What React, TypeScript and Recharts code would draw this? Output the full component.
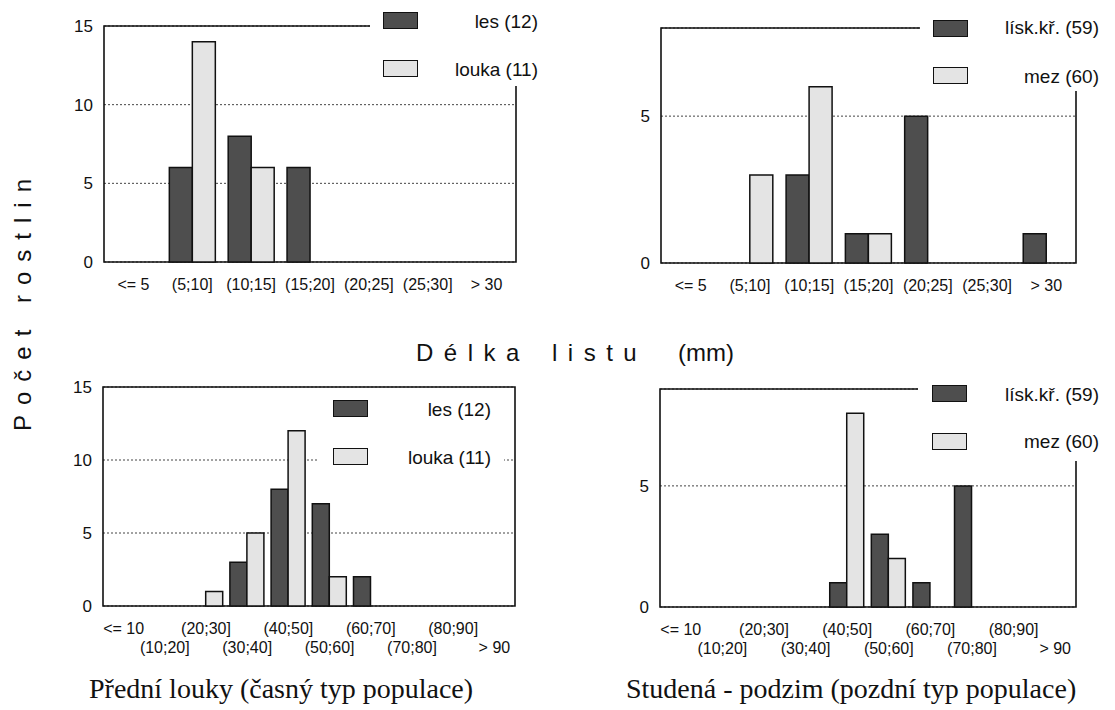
import React from "react";
import { BarChart, Bar, XAxis, YAxis, CartesianGrid, Legend, ReferenceArea } from "recharts";

// leaf length bins
const shortBins = ["<= 5", "(5;10]", "(10;15]", "(15;20]", "(20;25]", "(25;30]", "> 30"];
const longBins = ["<= 10", "(10;20]", "(20;30]", "(30;40]", "(40;50]", "(50;60]", "(60;70]", "(70;80]", "(80;90]", "> 90"];

// plant counts per bin
const earlyShortLes = [0, 6, 8, 6, 0, 0, 0];
const earlyShortLouka = [0, 14, 6, 0, 0, 0, 0];
const lateShortLisk = [0, 0, 3, 1, 5, 0, 1];
const lateShortMez = [0, 3, 6, 1, 0, 0, 0];
const earlyLongLes = [0, 0, 0, 3, 8, 7, 2, 0, 0, 0];
const earlyLongLouka = [0, 0, 1, 5, 12, 2, 0, 0, 0, 0];
const lateLongLisk = [0, 0, 0, 0, 1, 3, 1, 5, 0, 0];
const lateLongMez = [0, 0, 0, 0, 8, 2, 0, 0, 0, 0];

const earlyNames: [string, string] = ["les (12)", "louka (11)"];
const lateNames: [string, string] = ["lísk.kř. (59)", "mez (60)"];

const DARK = "#4e4e4e";
const LIGHT = "#e4e4e4";
const INK = "#111";
const SANS = "Arial, 'Liberation Sans', sans-serif";
const SERIF = "'Times New Roman', 'Liberation Serif', serif";

type LegendCfg = {
  box: [number, number, number, number];
  sx: number;
  sy: [number, number];
  ty: [number, number];
  tr: number;
};

interface PanelProps {
  plot: [number, number, number, number];
  cats: string[];
  a: number[];
  b: number[];
  names: [string, string];
  yMax: number;
  yTicks: number[];
  stagger?: boolean;
  gap: string;
  legend: LegendCfg;
}

const XTick = (props: any) => {
  const { x, y, payload, index, stagger } = props;
  const dy = stagger && index % 2 === 1 ? 47 : 28;
  return (
    <text x={x} y={y + dy} textAnchor="middle" fontSize={16} fontFamily={SANS} fill={INK}>
      {payload.value}
    </text>
  );
};

function LegendBox({ cfg, payload, names }: { cfg: LegendCfg; payload?: any[]; names: [string, string] }) {
  const [bx, by, bw, bh] = cfg.box;
  const fills = [DARK, LIGHT];
  return (
    <div style={{ position: "relative", width: bw, height: bh, background: "#fff" }}>
      {[0, 1].map((i) => (
        <React.Fragment key={i}>
          <div
            style={{
              position: "absolute",
              left: cfg.sx - bx,
              top: cfg.sy[i] - by,
              width: 35,
              height: 17,
              boxSizing: "border-box",
              border: `1.5px solid ${INK}`,
              background: payload?.[i]?.color ?? fills[i],
            }}
          />
          <div
            style={{
              position: "absolute",
              right: bx + bw - cfg.tr,
              top: cfg.ty[i] - by - 11,
              fontFamily: SANS,
              fontSize: 19,
              lineHeight: "22px",
              color: INK,
              whiteSpace: "nowrap",
            }}
          >
            {payload?.[i]?.value ?? names[i]}
          </div>
        </React.Fragment>
      ))}
    </div>
  );
}

function Panel({ plot, cats, a, b, names, yMax, yTicks, stagger, gap, legend }: PanelProps) {
  const [px, py, pw, ph] = plot;
  const cl = px - 45;
  const ct = py - 10;
  const data = cats.map((c, i) => ({ cat: c, a: a[i], b: b[i] }));
  const [bx, by, bw, bh] = legend.box;
  return (
    <div style={{ position: "absolute", left: cl, top: ct }}>
      <BarChart
        width={pw + 85}
        height={ph + 60}
        data={data}
        margin={{ top: 10, right: 40, bottom: 0, left: 0 }}
        barGap={0}
        barCategoryGap={gap}
      >
        <CartesianGrid vertical={false} stroke="#444" strokeDasharray="2 2" />
        <XAxis
          dataKey="cat"
          height={50}
          interval={0}
          tickLine={false}
          axisLine={false}
          tickSize={0}
          tickMargin={0}
          tick={<XTick stagger={stagger} />}
        />
        <YAxis
          width={45}
          domain={[0, yMax]}
          ticks={yTicks}
          tickLine={false}
          axisLine={false}
          tickSize={0}
          tickMargin={11}
          tick={{ fontSize: 17, fill: INK, fontFamily: SANS }}
        />
        <ReferenceArea y1={0} y2={yMax} fill="none" stroke={INK} strokeWidth={1.6} ifOverflow="visible" />
        <Bar dataKey="a" name={names[0]} fill={DARK} stroke={INK} strokeWidth={1.5} isAnimationActive={false} />
        <Bar dataKey="b" name={names[1]} fill={LIGHT} stroke={INK} strokeWidth={1.5} isAnimationActive={false} />
        <Legend
          layout="vertical"
          align="center"
          verticalAlign="middle"
          wrapperStyle={{ left: bx - cl, top: by - ct, width: bw, height: bh }}
          content={(p: any) => <LegendBox cfg={legend} payload={p.payload} names={names} />}
        />
      </BarChart>
    </div>
  );
}

export default function App() {
  return (
    <div
      style={{
        position: "absolute",
        left: 0,
        top: 0,
        width: 1115,
        height: 710,
        background: "#fff",
        overflow: "hidden",
      }}
    >
      <Panel
        plot={[104, 26, 412, 236]}
        cats={shortBins}
        a={earlyShortLes}
        b={earlyShortLouka}
        names={earlyNames}
        yMax={15}
        yTicks={[0, 5, 10, 15]}
        gap="11%"
        legend={{ box: [370, 0, 175, 86], sx: 383, sy: [12, 60], ty: [22, 70], tr: 538 }}
      />
      <Panel
        plot={[661, 28, 415, 235]}
        cats={shortBins}
        a={lateShortLisk}
        b={lateShortMez}
        names={lateNames}
        yMax={8}
        yTicks={[0, 5]}
        gap="11%"
        legend={{ box: [920, 0, 190, 91], sx: 933, sy: [20, 67], ty: [28, 77], tr: 1099 }}
      />
      <Panel
        plot={[103, 387, 412, 219]}
        cats={longBins}
        a={earlyLongLes}
        b={earlyLongLouka}
        names={earlyNames}
        yMax={15}
        yTicks={[0, 5, 10, 15]}
        stagger
        gap="8%"
        legend={{ box: [318, 393, 186, 78], sx: 333, sy: [400, 448], ty: [410, 458], tr: 491 }}
      />
      <Panel
        plot={[660, 389, 416, 218]}
        cats={longBins}
        a={lateLongLisk}
        b={lateLongMez}
        names={lateNames}
        yMax={9}
        yTicks={[0, 5]}
        stagger
        gap="8%"
        legend={{ box: [918, 374, 190, 87], sx: 932, sy: [385, 433], ty: [395, 442], tr: 1099 }}
      />
      <svg width={1115} height={710} style={{ position: "absolute", left: 0, top: 0, pointerEvents: "none" }}>
        <text
          transform="translate(31,300) rotate(-90)"
          textAnchor="middle"
          fontFamily={SANS}
          fontSize={24}
          fill={INK}
          style={{ letterSpacing: "10px" }}
        >
          Počet rostlin
        </text>
        <text x={416} y={361} fontFamily={SANS} fontSize={24} fill={INK} style={{ letterSpacing: "10.5px" }}>
          Délka
        </text>
        <text x={552} y={361} fontFamily={SANS} fontSize={24} fill={INK} style={{ letterSpacing: "10.5px" }}>
          listu
        </text>
        <text x={678} y={361} fontFamily={SANS} fontSize={24} fill={INK}>
          (mm)
        </text>
        <text x={89} y={698} fontFamily={SERIF} fontSize={28} fill={INK}>
          Přední louky (časný typ populace)
        </text>
        <text x={626} y={698} fontFamily={SERIF} fontSize={28} fill={INK}>
          Studená - podzim (pozdní typ populace)
        </text>
      </svg>
    </div>
  );
}
